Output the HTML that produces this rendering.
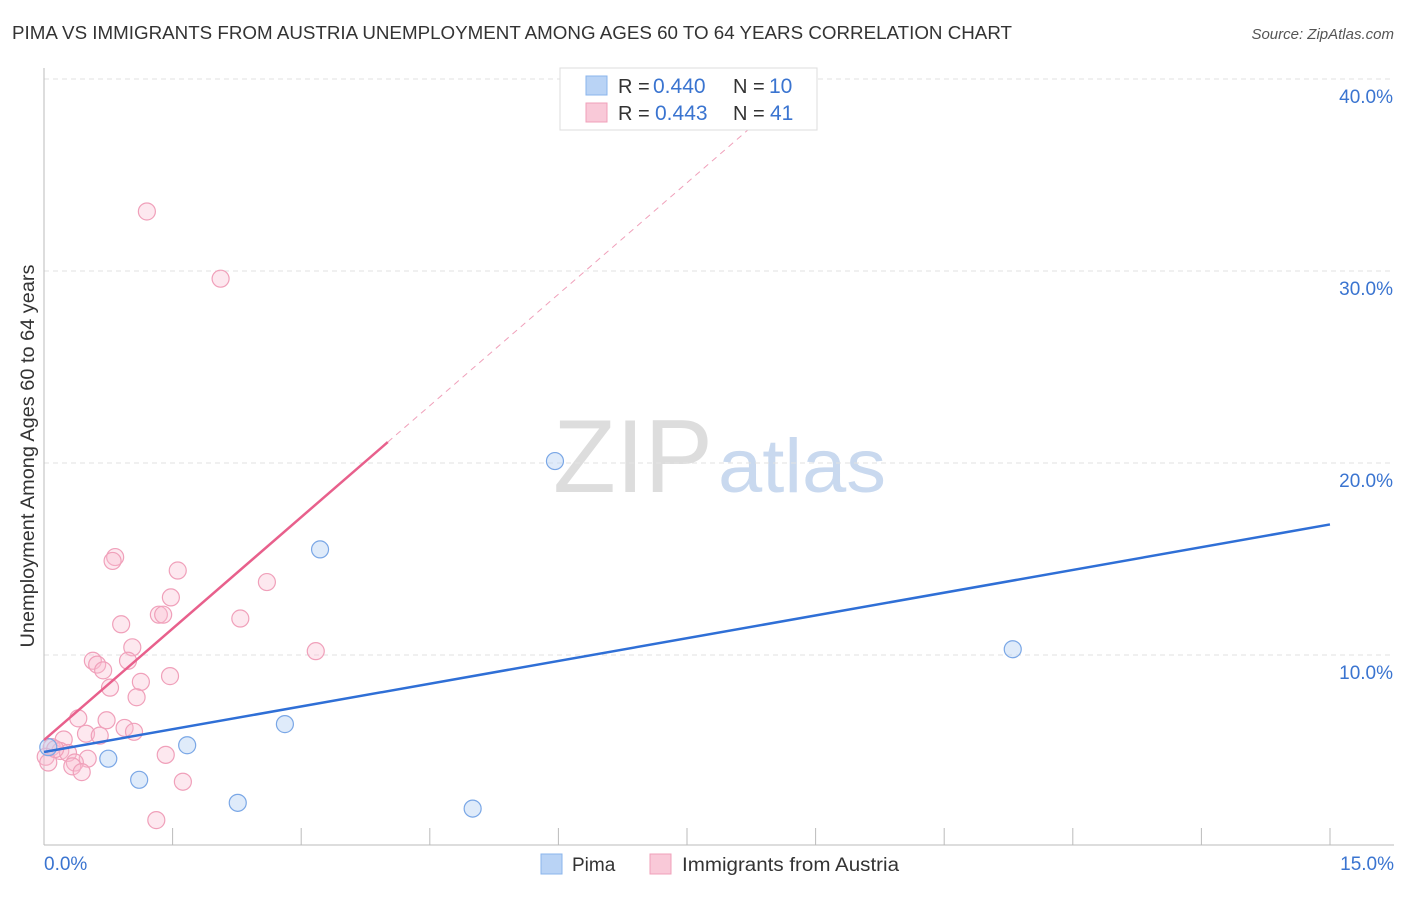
<!DOCTYPE html>
<html><head><meta charset="utf-8">
<style>
body{margin:0;background:#fff;font-family:"Liberation Sans",sans-serif;}
svg text{font-family:"Liberation Sans",sans-serif;}
</style></head>
<body>
<svg id="chart" width="1406" height="892">
<text x="12" y="39" font-size="18" fill="#333" textLength="1000" lengthAdjust="spacingAndGlyphs">PIMA VS IMMIGRANTS FROM AUSTRIA UNEMPLOYMENT AMONG AGES 60 TO 64 YEARS CORRELATION CHART</text>
<text x="1394" y="39" font-size="15" fill="#555" text-anchor="end" font-style="italic">Source: ZipAtlas.com</text>
<text x="553" y="492" font-size="104" fill="#ddd" font-family="Liberation Serif" textLength="160" lengthAdjust="spacingAndGlyphs">ZIP</text>
<text x="718" y="492" font-size="76" fill="#c9d9ef" textLength="168" lengthAdjust="spacingAndGlyphs">atlas</text>
<g id="grid"></g><g id="marks"></g>
<text transform="translate(34,456) rotate(-90)" font-size="19.5" fill="#333" text-anchor="middle" textLength="383" lengthAdjust="spacingAndGlyphs">Unemployment Among Ages 60 to 64 years</text>
<g>
<rect x="560" y="68" width="257" height="62" fill="#fff" stroke="#ddd"/>
<rect x="586" y="76" width="21" height="19" fill="#b9d3f5" stroke="#8ab4ec"/>
<text x="618" y="93" font-size="20" fill="#333">R =</text>
<text x="653" y="93" font-size="21" fill="#3a74d0">0.440</text>
<text x="733" y="93" font-size="20" fill="#333">N =</text>
<text x="769" y="93" font-size="21" fill="#3a74d0">10</text>
<rect x="586" y="103" width="21" height="19" fill="#f9c9d8" stroke="#f0a0ba"/>
<text x="618" y="120" font-size="20" fill="#333">R =</text>
<text x="655" y="120" font-size="21" fill="#3a74d0">0.443</text>
<text x="733" y="120" font-size="20" fill="#333">N =</text>
<text x="770" y="120" font-size="21" fill="#3a74d0">41</text>
</g>
<g>
<rect x="541" y="854" width="21" height="20" fill="#b9d3f5" stroke="#8ab4ec"/>
<text x="572" y="871" font-size="19" fill="#333">Pima</text>
<rect x="650" y="854" width="21" height="20" fill="#f9c9d8" stroke="#f0a0ba"/>
<text x="682" y="871" font-size="19" fill="#333" textLength="217" lengthAdjust="spacingAndGlyphs">Immigrants from Austria</text>
</g>
</svg>
<script>
const yTicks=[10,20,30,40];
const xTickLabels=["0.0%","15.0%"];
const pimaX=[0.05,0.75,1.11,1.67,2.26,2.81,3.22,5.0,5.96,11.3];
const pimaY=[5.2,4.6,3.5,5.3,2.3,6.4,15.5,2.0,20.1,10.3];
const ausX=[1.2,2.06,0.83,0.8,1.56,2.6,1.48,1.34,1.39,2.29,0.9,3.17,1.03,0.57,0.62,0.98,0.69,1.47,1.13,0.77,1.08,0.4,0.73,0.94,1.05,0.49,0.65,0.23,0.09,0.19,0.28,0.51,0.36,0.33,1.42,0.44,1.62,1.31,0.02,0.05,0.13];
const ausY=[33.1,29.6,15.1,14.9,14.4,13.8,13.0,12.1,12.1,11.9,11.6,10.2,10.4,9.7,9.5,9.7,9.2,8.9,8.6,8.3,7.8,6.7,6.6,6.2,6.0,5.9,5.8,5.6,5.2,5.0,4.9,4.6,4.4,4.2,4.8,3.9,3.4,1.4,4.7,4.4,5.1];
const pimaTrend=[4.95,16.8];
const ausTrend=[5.57,3.87];
const X=v=>44+v*85.73, Y=v=>847-v*19.2;
const NS="http://www.w3.org/2000/svg";
function mk(t,a,p){const e=document.createElementNS(NS,t);for(const k in a)e.setAttribute(k,a[k]);p.appendChild(e);return e;}
const g=document.getElementById('grid'),m=document.getElementById('marks');
yTicks.forEach(t=>{
 const l=mk('line',{x1:44,x2:1394,y1:Y(t),y2:Y(t),stroke:'#e2e2e2','stroke-dasharray':'5,4'},g);
 
 
 const tx=mk('text',{x:1393,y:Y(t)+24,'font-size':19,fill:'#3a74d0','text-anchor':'end'},g);tx.textContent=t.toFixed(1)+'%';
 
 
});
mk('line',{x1:44,x2:44,y1:68,y2:845,stroke:'#bbb'},g);
mk('line',{x1:44,x2:1394,y1:845,y2:845,stroke:'#bbb'},g);
for(let i=1;i<=10;i++){mk('line',{x1:44+i*128.6,x2:44+i*128.6,y1:828,y2:845,stroke:'#bbb'},g);}
const xl0=mk('text',{x:44,y:870,'font-size':19,fill:'#3a74d0'},g);xl0.textContent=xTickLabels[0];


const xl1=mk('text',{x:1394,y:870,'font-size':19,fill:'#3a74d0','text-anchor':'end'},g);xl1.textContent=xTickLabels[1];


ausX.forEach((x,i)=>{const c=mk('circle',{cx:X(x),cy:Y(ausY[i]),r:8.5,fill:'rgba(249,190,210,0.35)',stroke:'#f0a0ba','stroke-width':1.2},m);
 
 });
pimaX.forEach((x,i)=>{const c=mk('circle',{cx:X(x),cy:Y(pimaY[i]),r:8.5,fill:'rgba(185,211,245,0.45)',stroke:'#7aa7e6','stroke-width':1.2},m);
 
 });
const pl=mk('line',{x1:X(0),y1:Y(pimaTrend[0]),x2:X(15),y2:Y(pimaTrend[1]),stroke:'#2f6fd6','stroke-width':2.5},m);


const al=mk('line',{x1:X(0),y1:Y(ausTrend[0]),x2:X(4.01),y2:Y(ausTrend[0]+ausTrend[1]*4.01),stroke:'#e8608c','stroke-width':2.5},m);


const ad=mk('line',{x1:X(4.01),y1:Y(ausTrend[0]+ausTrend[1]*4.01),x2:X(8.4),y2:Y(ausTrend[0]+ausTrend[1]*8.4),stroke:'#f0a0ba','stroke-width':1,'stroke-dasharray':'6,5'},m);


</script>
</body></html>
